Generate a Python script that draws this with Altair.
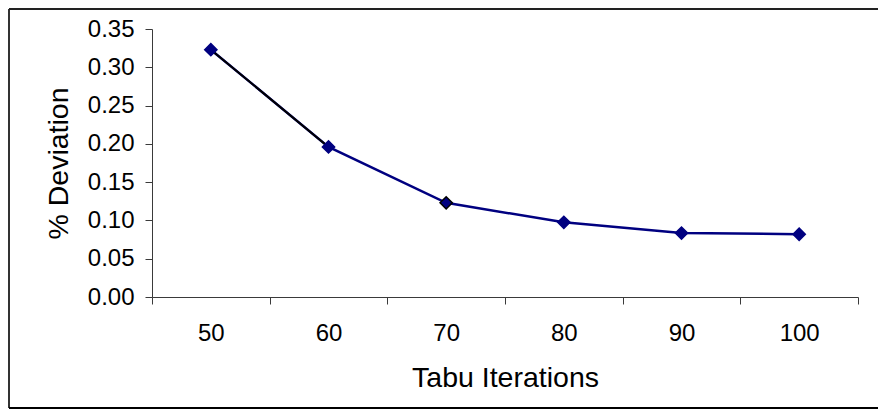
import altair as alt
import pandas as pd

iterations = [50, 60, 70, 80, 90, 100]
deviation = [0.323, 0.196, 0.123, 0.0975, 0.0835, 0.082]
y_ticks = [0.0, 0.05, 0.10, 0.15, 0.20, 0.25, 0.30, 0.35]

df = pd.DataFrame({"iter": iterations, "dev": deviation})
frame_df = pd.DataFrame({"k": [0]})

FONT = "Liberation Sans"
AXIS_COLOR = "#3a3a3a"

x_enc = alt.X(
    "iter:O",
    sort=iterations,
    scale=alt.Scale(type="band", paddingInner=0, paddingOuter=0),
    axis=alt.Axis(
        title="Tabu Iterations",
        labelAngle=0,
        tickBand="extent",
        tickSize=7,
        labelPadding=17,
        labelFontSize=24,
        titleFontSize=28.5,
        titleFontWeight="normal",
        titlePadding=18,
        titleColor="black",
        labelColor="black",
        domainColor=AXIS_COLOR,
        tickColor=AXIS_COLOR,
        grid=False,
    ),
)
y_enc = alt.Y(
    "dev:Q",
    scale=alt.Scale(domain=[0, 0.35], nice=False, zero=True),
    axis=alt.Axis(
        title="% Deviation",
        values=y_ticks,
        format=".2f",
        tickSize=7,
        labelPadding=11,
        labelFontSize=24,
        titleFontSize=28.5,
        titleFontWeight="normal",
        titlePadding=14,
        titleColor="black",
        labelColor="black",
        domainColor=AXIS_COLOR,
        tickColor=AXIS_COLOR,
        grid=False,
    ),
)

base = alt.Chart(df)

line_all = base.mark_line(color="#000080", strokeWidth=2.5).encode(x=x_enc, y=y_enc)
line_first = (
    base.transform_filter("datum.iter <= 60")
    .mark_line(color="black", strokeWidth=2)
    .encode(x=x_enc, y=y_enc)
)
points = base.mark_point(
    shape="diamond", filled=True, size=150, fill="#000080", strokeWidth=1.5, opacity=1
).encode(
    x=x_enc,
    y=y_enc,
    stroke=alt.condition("datum.iter == 70", alt.value("black"), alt.value("#000080")),
)

# chart border (left, top, bottom edges; right edge lies beyond the picture)
fb = alt.Chart(frame_df)
border_left = fb.mark_rule(color="#333", strokeWidth=2).encode(
    x=alt.value(-143), y=alt.value(-20), y2=alt.value(379)
)
border_top = fb.mark_rule(color="#222", strokeWidth=2).encode(
    x=alt.value(-143), x2=alt.value(726), y=alt.value(-20)
)
border_bottom = fb.mark_rule(color="black", strokeWidth=2).encode(
    x=alt.value(-143), x2=alt.value(726), y=alt.value(379)
)

chart = (
    alt.layer(border_left, border_top, border_bottom, line_all, line_first, points)
    .properties(
        width=706,
        height=268,
        padding={"left": 144, "top": 21, "right": 24, "bottom": 112},
        autosize=alt.AutoSizeParams(type="none"),
        background="white",
    )
    .configure(font=FONT)
    .configure_view(stroke=None)
)

chart.save("out.html", embed_options={"renderer": "svg", "actions": False})
